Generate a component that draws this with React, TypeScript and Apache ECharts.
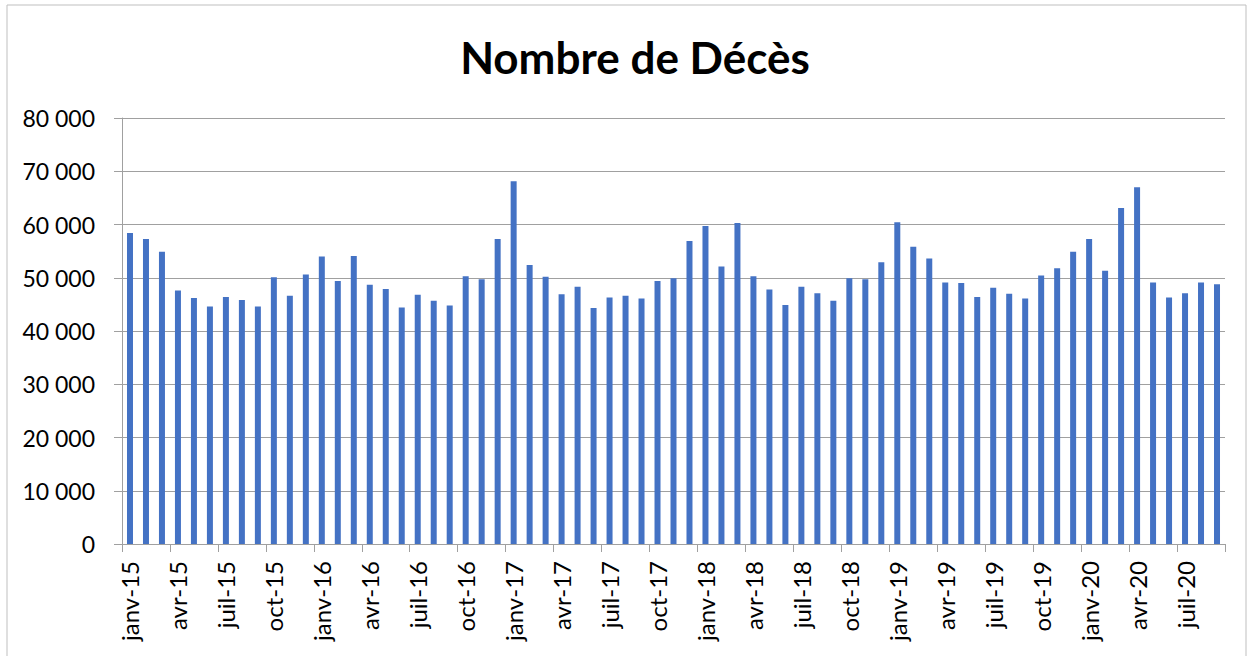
import React, { useEffect, useRef } from "react";
import * as echarts from "echarts";

const monthNames = ["janv", "févr", "mars", "avr", "mai", "juin", "juil", "août", "sept", "oct", "nov", "déc"];
const years = ["15", "16", "17", "18", "19", "20"];

const deaths2015 = [58400, 57300, 54900, 47600, 46200, 44600, 46400, 45800, 44600, 50100, 46600, 50600];
const deaths2016 = [54000, 49400, 54100, 48700, 47900, 44400, 46800, 45700, 44800, 50300, 49700, 57300];
const deaths2017 = [68100, 52400, 50200, 46900, 48300, 44300, 46300, 46600, 46100, 49400, 49900, 56900];
const deaths2018 = [59700, 52100, 60300, 50300, 47800, 44900, 48300, 47100, 45700, 49900, 49700, 52900];
const deaths2019 = [60400, 55800, 53600, 49100, 49000, 46400, 48100, 47000, 46100, 50400, 51800, 54900];
const deaths2020 = [57300, 51300, 63100, 67000, 49100, 46300, 47100, 49100, 48800];

const yearValues = [deaths2015, deaths2016, deaths2017, deaths2018, deaths2019, deaths2020];

const categories: string[] = [];
const values: number[] = [];
yearValues.forEach((arr, yi) => {
  arr.forEach((v, mi) => {
    categories.push(`${monthNames[mi]}-${years[yi]}`);
    values.push(v);
  });
});

const fmt = (v: number) => String(v).replace(/\B(?=(\d{3})+(?!\d))/g, " ");

export default function App() {
  const ref = useRef<HTMLDivElement>(null);
  useEffect(() => {
    if (!ref.current) return;
    const chart = echarts.init(ref.current, undefined, { renderer: "svg" });
    const font = "Lato";
    chart.setOption({
      animation: false,
      backgroundColor: "#ffffff",
      title: {
        text: "Nombre de Décès",
        left: 630,
        textAlign: "center",
        top: 30,
        textStyle: { fontFamily: font, fontWeight: "bold", fontSize: 44, color: "#000000" },
      },
      graphic: [
        {
          type: "rect",
          shape: { x: 7, y: 5, width: 1239, height: 670 },
          style: { fill: "none", stroke: "#BFBFBF", lineWidth: 1 },
          silent: true,
        },
      ],
      grid: { left: 122, right: 28, top: 118, bottom: 112, containLabel: false },
      xAxis: {
        type: "category",
        data: categories,
        boundaryGap: true,
        axisLine: { show: true, lineStyle: { color: "#A0A0A0", width: 1 } },
        axisTick: { show: true, interval: 2, length: 8, alignWithLabel: false, lineStyle: { color: "#A0A0A0" } },
        axisLabel: {
          interval: 2,
          rotate: 90,
          margin: 17,
          fontFamily: font,
          fontSize: 24,
          color: "#000000",
        },
        splitLine: { show: false },
      },
      yAxis: {
        type: "value",
        min: 0,
        max: 80000,
        interval: 10000,
        axisLine: { show: true, lineStyle: { color: "#A0A0A0", width: 1 } },
        axisTick: { show: true, length: 8, lineStyle: { color: "#A0A0A0" } },
        axisLabel: {
          margin: 27,
          fontFamily: font,
          fontSize: 23,
          color: "#000000",
          formatter: (v: number) => fmt(v),
        },
        splitLine: { show: true, lineStyle: { color: "#A0A0A0", width: 1 } },
      },
      series: [
        {
          type: "bar",
          data: values,
          barWidth: 6,
          itemStyle: { color: "#4472C4" },
        },
      ],
    });
    return () => chart.dispose();
  }, []);
  return (
    <div
      ref={ref}
      style={{ position: "absolute", left: 0, top: 0, width: 1253, height: 656 }}
    />
  );
}
